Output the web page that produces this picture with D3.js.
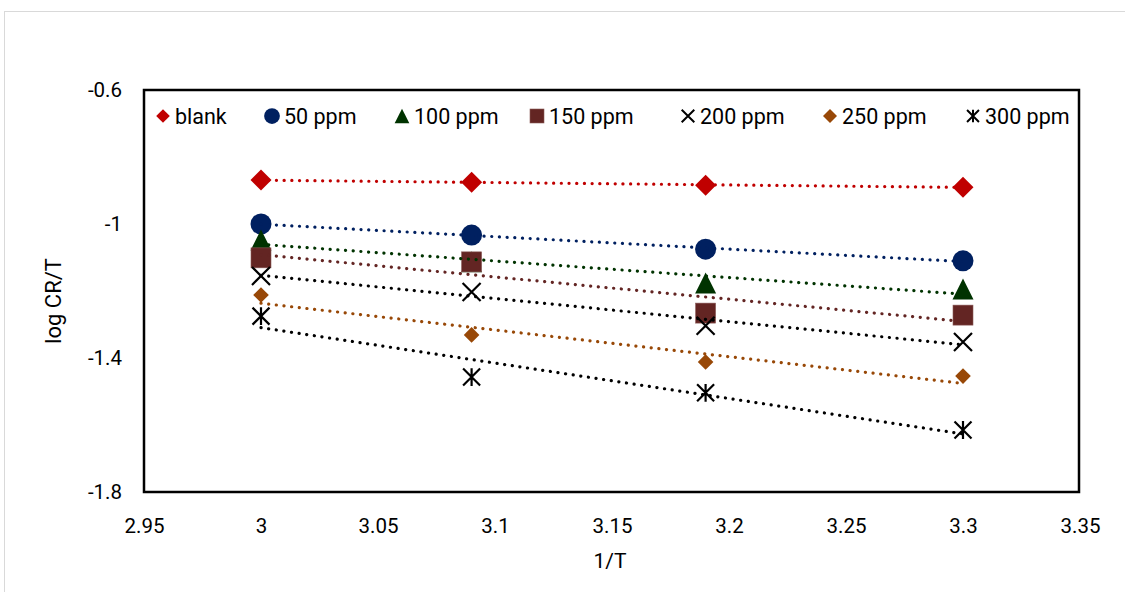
<!DOCTYPE html>
<html><head><meta charset="utf-8">
<script src="https://cdn.jsdelivr.net/npm/d3@7"></script>
<style>body{margin:0;background:#fff}svg{display:block;font-family:Roboto,"Liberation Sans",sans-serif}</style>
</head><body><svg id="c" width="1125" height="592"></svg>
<script>
const xValues = [3, 3.09, 3.19, 3.3];
const seriesNames = ["blank","50 ppm","100 ppm","150 ppm","200 ppm","250 ppm","300 ppm"];
const blank   = [-0.869, -0.875, -0.884, -0.890];
const ppm50   = [-1.000, -1.033, -1.075, -1.110];
const ppm100  = [-1.048, -1.113, -1.176, -1.194];
const ppm150  = [-1.101, -1.113, -1.266, -1.272];
const ppm200  = [-1.155, -1.203, -1.304, -1.352];
const ppm250  = [-1.212, -1.331, -1.412, -1.454];
const ppm300  = [-1.275, -1.457, -1.504, -1.615];
const xTicks = [2.95, 3, 3.05, 3.1, 3.15, 3.2, 3.25, 3.3, 3.35];
const yTicks = [-0.6, -1, -1.4, -1.8];

const colors = ["#C00000","#002060","#003300","#632523","#000000","#984807","#000000"];
const shapes = ["bigDiamond","circle","triangle","square","x","smallDiamond","asterisk"];
const values = [blank, ppm50, ppm100, ppm150, ppm200, ppm250, ppm300];

const svg = d3.select("#c");
const L=144, R=1080, T=90, B=492;
const x = d3.scaleLinear().domain([2.95,3.35]).range([L,R]);
const y = d3.scaleLinear().domain([-1.8,-0.6]).range([B,T]);

// outer frame
svg.append("rect").attr("x",4.5).attr("y",11.5).attr("width",1130).attr("height",600)
  .attr("fill","none").attr("stroke","#d9d9d9").attr("stroke-width",1);

// axes (labels only)
const xa = svg.append("g").attr("transform",`translate(0,${B})`)
  .call(d3.axisBottom(x).tickValues(xTicks).tickFormat(d=>String(d)).tickSize(0).tickPadding(26));
xa.select(".domain").remove();
xa.selectAll("text").attr("font-size",20.5).attr("fill","#000").style("font-family","Roboto,sans-serif");
const ya = svg.append("g").attr("transform",`translate(${L},0)`)
  .call(d3.axisLeft(y).tickValues(yTicks).tickFormat(d=>String(d)).tickSize(0).tickPadding(22));
ya.select(".domain").remove();
ya.selectAll("text").attr("font-size",20.5).attr("fill","#000").style("font-family","Roboto,sans-serif");

svg.append("text").attr("x",610).attr("y",568).attr("text-anchor","middle").attr("font-size",21).text("1/T");
svg.append("text").attr("transform","translate(61,301) rotate(-90)").attr("text-anchor","middle").attr("font-size",22).text("log CR/T");

// trendlines
function fit(xs, ys){
  const mx=d3.mean(xs), my=d3.mean(ys);
  let sxy=0,sxx=0; xs.forEach((v,i)=>{sxy+=(v-mx)*(ys[i]-my);sxx+=(v-mx)*(v-mx);});
  const m=sxy/sxx; return [m, my-m*mx];
}
const plot = svg.append("g");

function drawShape(g, shape, color, s){
  if(shape==="bigDiamond"||shape==="smallDiamond"){
    const r=(shape==="bigDiamond"?10.5:7.8)*s;
    g.append("path").attr("d",`M0,${-r}L${r},0L0,${r}L${-r},0Z`).attr("fill",color);
  } else if(shape==="circle"){
    g.append("circle").attr("r",10.5*s).attr("fill",color);
  } else if(shape==="triangle"){
    const h=10.5*s;
    g.append("path").attr("d",`M0,${-h}L${h},${h}L${-h},${h}Z`).attr("fill",color);
  } else if(shape==="square"){
    const h=10*s;
    g.append("rect").attr("x",-h).attr("y",-h).attr("width",2*h).attr("height",2*h).attr("fill",color)
      .attr("stroke","#8a5a58").attr("stroke-width",0.6);
  } else if(shape==="x"){
    const h=9*s;
    g.append("path").attr("d",`M${-h},${-h}L${h},${h}M${h},${-h}L${-h},${h}`).attr("stroke",color).attr("stroke-width",2.2*Math.max(s,0.9));
  } else if(shape==="asterisk"){
    const h=8.5*s;
    g.append("path").attr("d",`M${-h},${-h}L${h},${h}M${h},${-h}L${-h},${h}M0,${-h*1.05}L0,${h*1.05}`).attr("stroke",color).attr("stroke-width",2.2*Math.max(s,0.9));
  }
}

values.forEach((vals,i)=>{
  const g = plot.append("g");
  vals.forEach((v,j)=>{
    const m = g.append("g").attr("transform",`translate(${x(xValues[j])},${y(v)})`);
    drawShape(m, shapes[i], colors[i], 1);
  });
});
values.forEach((vals,i)=>{
  const [m,b]=fit(xValues, vals);
  plot.append("line")
    .attr("x1",x(xValues[0])).attr("y1",y(m*xValues[0]+b))
    .attr("x2",x(xValues[3])).attr("y2",y(m*xValues[3]+b))
    .attr("stroke",colors[i]).attr("stroke-width",3.2)
    .attr("stroke-linecap","round").attr("stroke-dasharray","0.1 7.6");
});

// plot border
svg.append("rect").attr("x",L).attr("y",T).attr("width",R-L-1).attr("height",B-T)
  .attr("fill","none").attr("stroke","#000").attr("stroke-width",2.5);

// legend
const legX = [163, 272, 402, 537, 688, 830, 973];
const leg = svg.append("g").attr("transform","translate(0,116)");
seriesNames.forEach((n,i)=>{
  const g = leg.append("g").attr("transform",`translate(${legX[i]},0)`);
  const sc = shapes[i]==="bigDiamond"?0.65:(shapes[i]==="smallDiamond"?0.9:(shapes[i]==="circle"?0.75:0.7));
  drawShape(g, shapes[i], colors[i], sc);
  g.append("text").attr("x",12).attr("y",7.5).attr("font-size",21.5).attr("fill","#000").text(n);
});
</script></body></html>
